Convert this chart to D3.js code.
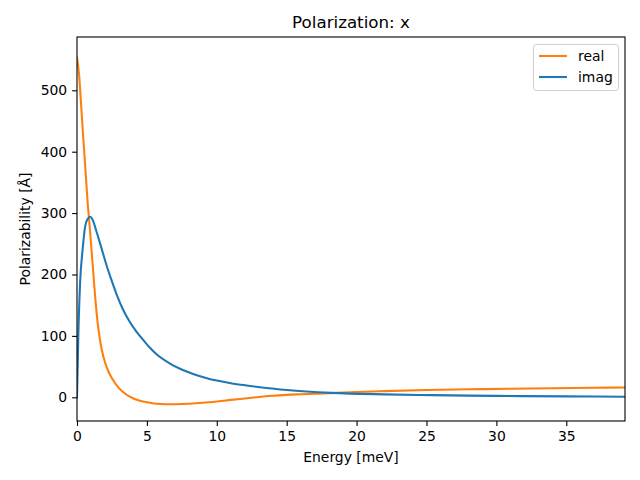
<!DOCTYPE html>
<html><head><meta charset="utf-8">
<script src="https://cdn.jsdelivr.net/npm/d3@7"></script>
<style>body{margin:0;background:#fff}svg{display:block}text{font-family:"DejaVu Sans",sans-serif;fill:#000}</style>
</head><body>
<svg id="c" width="640" height="480"></svg>
<script>
const realE = [0, 0.15, 0.3, 0.45, 0.6, 0.75, 0.9, 1.0, 1.1, 1.25, 1.4, 1.5, 1.6, 1.75, 2.0, 2.25, 2.5, 3.0, 3.5, 4.0, 4.5, 5.0, 5.5, 6.0, 6.5, 7.0, 8.0, 9.0, 10, 11, 12, 13, 14, 15, 16, 18, 20, 22, 25, 28, 31, 34, 37, 39.2];
const realV = [553, 525, 474, 422, 372, 321, 280, 251, 222, 178, 138, 117, 100, 80, 57, 42, 31, 15, 5, -1.5, -5.5, -8.2, -10, -11, -11.4, -11.3, -10.5, -9, -6.8, -4.2, -2, 0.5, 2.5, 4, 5, 6.7, 8.5, 10, 11.8, 13, 14, 14.8, 15.5, 16];
const imagE = [0, 0.1, 0.22, 0.4, 0.58, 0.75, 0.95, 1.1, 1.42, 1.75, 2.14, 2.45, 2.86, 3.29, 3.77, 4.25, 4.75, 5.2, 5.69, 6.65, 7.37, 8.57, 9.29, 11, 12.4, 13.4, 15, 18.2, 22, 25.4, 30, 35, 39.2];
const imagV = [0, 105, 186, 240, 278, 290, 294, 290, 268, 243, 213, 192, 166, 143, 123, 107, 93, 81, 70, 55, 46.5, 36, 31, 23, 18.5, 15.5, 11.8, 7.2, 4.8, 3.5, 2.3, 1.5, 1];
const xTicks = [0, 5, 10, 15, 20, 25, 30, 35];
const yTicks = [0, 100, 200, 300, 400, 500];
const seriesNames = ["real", "imag"];
const seriesColors = ["#ff7f0e", "#1f77b4"];

const svg = d3.select("#c");
const L = 77, R = 625, T = 37, B = 421;
const x = d3.scaleLinear().domain([0, 39.2]).range([L, R]);
const y = d3.scaleLinear().domain([-38.6, 586.8]).range([B, T]);

svg.append("defs").append("clipPath").attr("id","clp")
  .append("rect").attr("x",L).attr("y",T).attr("width",R-L).attr("height",B-T);

const line = d3.line().x(d=>x(d[0])).y(d=>y(d[1])).curve(d3.curveMonotoneX);
const series = [d3.zip(realE, realV), d3.zip(imagE, imagV)];
const g = svg.append("g").attr("clip-path","url(#clp)");
series.forEach((s,i)=>{
  g.append("path").attr("d", line(s)).attr("fill","none")
   .attr("stroke", seriesColors[i]).attr("stroke-width", 2.08).attr("stroke-linejoin","round").attr("stroke-linecap","square");
});

const xa = svg.append("g").attr("transform",`translate(0,${B})`)
  .call(d3.axisBottom(x).tickValues(xTicks).tickSize(4.9).tickPadding(4.9).tickFormat(d3.format("d")));
const ya = svg.append("g").attr("transform",`translate(${L},0)`)
  .call(d3.axisLeft(y).tickValues(yTicks).tickSize(4.9).tickPadding(4.9).tickFormat(d3.format("d")));
[xa, ya].forEach(a=>{
  a.select(".domain").remove();
  a.selectAll("line").attr("stroke","#000").attr("stroke-width",1.1);
  a.selectAll("text").style("font-family","DejaVu Sans").style("font-size","13.9px").attr("fill","#000");
});

svg.append("rect").attr("x",L).attr("y",T).attr("width",R-L).attr("height",B-T)
  .attr("fill","none").attr("stroke","#000").attr("stroke-width",1.1);

svg.append("text").attr("x",(L+R)/2).attr("y",28).attr("text-anchor","middle")
  .style("font-size","16.7px").text("Polarization: x");
svg.append("text").attr("x",(L+R)/2).attr("y",462).attr("text-anchor","middle")
  .style("font-size","13.9px").text("Energy [meV]");
svg.append("text").attr("transform",`translate(30,${(T+B)/2}) rotate(-90)`).attr("text-anchor","middle")
  .style("font-size","13.9px").text("Polarizability [Å]");

const lg = svg.append("g");
lg.append("rect").attr("x",533.5).attr("y",44.5).attr("width",85).attr("height",46).attr("rx",3)
  .attr("fill","#fff").attr("fill-opacity",0.8).attr("stroke","#d0d0d0").attr("stroke-width",1);
seriesNames.forEach((n,i)=>{
  const yy = 56 + i*21;
  lg.append("line").attr("x1",539).attr("x2",567).attr("y1",yy).attr("y2",yy)
    .attr("stroke",seriesColors[i]).attr("stroke-width",2.08);
  lg.append("text").attr("x",578).attr("y",yy+5).style("font-size","13.9px").text(n);
});
</script>
</body></html>
